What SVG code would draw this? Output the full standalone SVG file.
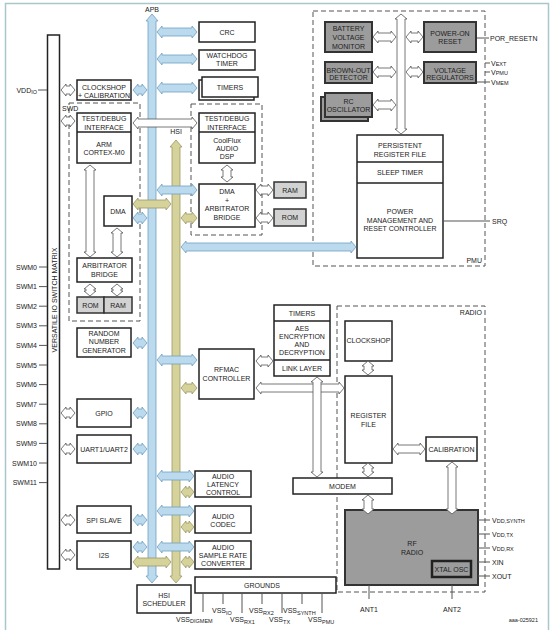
<svg xmlns="http://www.w3.org/2000/svg" width="554" height="630" viewBox="0 0 554 630">
<style>
.b{fill:#fff;stroke:#222;stroke-width:1.5}
.g{fill:#9c9c9c;stroke:#333;stroke-width:2}
.lg{fill:#d2d2d2;stroke:#333;stroke-width:1.5}
.d{fill:none;stroke:#555;stroke-width:1;stroke-dasharray:5 3}
.ab{fill:#bbdaee;stroke:#6f9fc0;stroke-width:0.8}
.ak{fill:#d5d29b;stroke:#9c9862;stroke-width:0.8}
.aw{fill:#fff;stroke:#555;stroke-width:0.8}
.ln{stroke:#555;stroke-width:1;fill:none}
text{font-family:"Liberation Sans",Arial,sans-serif;font-size:7px;fill:#222;text-anchor:middle}
.l{text-anchor:start}
.r{text-anchor:end}
.s{font-size:5.5px}
</style>
<rect width="554" height="630" fill="#fff"/>
<path d="M5.5,632 V3.5 H548.5 V632" fill="none" stroke="#a9c6cc" stroke-width="1.5"/>

<!-- dashed containers -->
<g id="arm-sub"><rect class="d" x="69" y="103" width="71" height="218"/><text class="l" x="62" y="110.5">SWD</text></g>
<g id="dsp-sub"><rect class="d" x="191" y="104" width="71" height="131"/></g>
<g id="pmu"><rect class="d" x="313" y="11" width="172" height="255"/><text class="r" x="482" y="262.5">PMU</text></g>
<g id="radio"><rect class="d" x="337" y="306" width="148" height="286"/><text class="r" x="482" y="314.5">RADIO</text></g>

<!-- switch matrix -->
<g id="switch-matrix">
<rect class="b" x="47.5" y="35" width="12" height="534"/>
<text transform="translate(56.5,300) rotate(-90)">VERSATILE IO SWITCH MATRIX</text>
<line class="ln" x1="38" y1="90" x2="47" y2="90"/>
<text class="r" x="37" y="92.5">VDD<tspan class="s" dy="1.5">IO</tspan></text>
</g>
<g id="swm-pins">
<path class="ln" d="M39,267H47M39,286.6H47M39,306.2H47M39,325.8H47M39,345.4H47M39,365H47M39,384.6H47M39,404.2H47M39,423.8H47M39,443.4H47M39,463H47M39,482.6H47"/>
<text class="r" x="37" y="269.5">SWM0</text>
<text class="r" x="37" y="289">SWM1</text>
<text class="r" x="37" y="308.7">SWM2</text>
<text class="r" x="37" y="328.3">SWM3</text>
<text class="r" x="37" y="347.9">SWM4</text>
<text class="r" x="37" y="367.5">SWM5</text>
<text class="r" x="37" y="387">SWM6</text>
<text class="r" x="37" y="406.7">SWM7</text>
<text class="r" x="37" y="426.3">SWM8</text>
<text class="r" x="37" y="445.9">SWM9</text>
<text class="r" x="37" y="465.5">SWM10</text>
<text class="r" x="37" y="485">SWM11</text>
</g>

<!-- buses -->
<g id="apb"><path class="ab" d="M152,14 L158,21 L156,21 L156,576 L158,576 L152,583 L146,576 L148,576 L148,21 L146,21 Z"/><text x="152" y="12">APB</text></g>
<g id="hsi"><path class="ak" d="M176,140 L182,147 L180,147 L180,576 L182,576 L176,583 L170,576 L172,576 L172,147 L170,147 Z"/><text x="176" y="134">HSI</text></g>

<!-- left column nodes -->
<g id="clockshop-cal"><rect class="b" x="77" y="80" width="54" height="20"/><text x="104" y="89.5">CLOCKSHOP</text><text x="104" y="97.5">+ CALIBRATION</text></g>
<g id="arm"><rect class="b" x="77" y="113" width="54" height="50"/><line x1="77" y1="132" x2="131" y2="132" stroke="#222" stroke-width="1.5"/>
<text x="104" y="120.5">TEST/DEBUG</text><text x="104" y="129.5">INTERFACE</text><text x="104" y="146.5">ARM</text><text x="104" y="154.5">CORTEX-M0</text></g>
<g id="dma"><rect class="b" x="104" y="196" width="28" height="30"/><text x="118" y="213.5">DMA</text></g>
<g id="arb"><rect class="b" x="77" y="258" width="55" height="24"/><text x="104.5" y="268">ARBITRATOR</text><text x="104.5" y="276.5">BRIDGE</text></g>
<g id="rom1"><rect class="lg" x="77" y="297" width="27" height="16"/><text x="90.5" y="307.5">ROM</text></g>
<g id="ram1"><rect class="lg" x="104" y="297" width="28" height="16"/><text x="118" y="307.5">RAM</text></g>
<g id="rng"><rect class="b" x="77" y="328" width="54" height="29"/><text x="104" y="335.5">RANDOM</text><text x="104" y="344">NUMBER</text><text x="104" y="352.5">GENERATOR</text></g>
<g id="gpio"><rect class="b" x="77" y="399" width="54" height="28"/><text x="104" y="415.5">GPIO</text></g>
<g id="uart"><rect class="b" x="77" y="435" width="54" height="28"/><text x="104" y="451.5">UART1/UART2</text></g>
<g id="spi"><rect class="b" x="77" y="506" width="54" height="27"/><text x="104" y="522.5">SPI SLAVE</text></g>
<g id="i2s"><rect class="b" x="77" y="541" width="54" height="28"/><text x="104" y="557.5">I2S</text></g>
<g id="hsi-sched"><rect class="b" x="137" y="585" width="54" height="28"/><text x="164" y="597.5">HSI</text><text x="164" y="605.5">SCHEDULER</text></g>

<!-- right column nodes -->
<g id="crc"><rect class="b" x="199" y="22" width="56" height="20"/><text x="227" y="34.5">CRC</text></g>
<g id="wdt"><rect class="b" x="199" y="50" width="56" height="20"/><text x="227" y="57.5">WATCHDOG</text><text x="227" y="65.5">TIMER</text></g>
<g id="timers"><rect class="b" x="199" y="80" width="55" height="20"/><rect class="b" x="202" y="77" width="56" height="20"/><text x="230" y="90">TIMERS</text></g>
<g id="dsp"><rect class="b" x="199" y="113" width="56" height="50"/><line x1="199" y1="132" x2="255" y2="132" stroke="#222" stroke-width="1.5"/>
<text x="227" y="120.5">TEST/DEBUG</text><text x="227" y="129.5">INTERFACE</text><text x="227" y="142.5">CoolFlux</text><text x="227" y="150.5">AUDIO</text><text x="227" y="158.5">DSP</text></g>
<g id="dma-arb"><rect class="b" x="199" y="184" width="56" height="43"/><text x="227" y="194">DMA</text><text x="227" y="202.5">+</text><text x="227" y="210.5">ARBITRATOR</text><text x="227" y="219.5">BRIDGE</text></g>
<g id="ram2"><rect class="lg" x="274" y="182" width="32" height="16"/><text x="290" y="192.5">RAM</text></g>
<g id="rom2"><rect class="lg" x="274" y="209" width="32" height="17"/><text x="290" y="220">ROM</text></g>
<g id="rfmac"><rect class="b" x="199" y="349" width="55" height="50"/><text x="226.5" y="371.5">RFMAC</text><text x="226.5" y="380.5">CONTROLLER</text></g>
<g id="link-layer"><rect class="b" x="274" y="305" width="56" height="71"/><path d="M274,321H330M274,360H330" stroke="#222" stroke-width="1.5"/>
<text x="302" y="315.5">TIMERS</text><text x="302" y="330.5">AES</text><text x="302" y="338.5">ENCRYPTION</text><text x="302" y="346.5">AND</text><text x="302" y="355">DECRYPTION</text><text x="302" y="370.5">LINK LAYER</text></g>
<g id="audio-lat"><rect class="b" x="195" y="471" width="56" height="26"/><text x="223" y="478.5">AUDIO</text><text x="223" y="486.5">LATENCY</text><text x="223" y="494.5">CONTROL</text></g>
<g id="audio-codec"><rect class="b" x="195" y="506" width="56" height="27"/><text x="223" y="518.5">AUDIO</text><text x="223" y="526.5">CODEC</text></g>
<g id="audio-src"><rect class="b" x="195" y="541" width="56" height="28"/><text x="223" y="549.5">AUDIO</text><text x="223" y="557.5">SAMPLE RATE</text><text x="223" y="565.5">CONVERTER</text></g>
<g id="grounds"><rect class="b" x="195" y="577" width="141" height="16"/><text x="262" y="587.5">GROUNDS</text>
<path class="ln" d="M203,593V612M223,593V604M242,593V613M262,593V604M282,593V613M302,593V604M322,593V613"/>
<text class="l" x="176" y="621.5">VSS<tspan class="s" dy="1.5">DIGMEM</tspan></text>
<text class="l" x="212" y="613">VSS<tspan class="s" dy="1.5">IO</tspan></text>
<text class="l" x="230" y="622">VSS<tspan class="s" dy="1.5">RX1</tspan></text>
<text class="l" x="249" y="613">VSS<tspan class="s" dy="1.5">RX2</tspan></text>
<text class="l" x="269" y="622">VSS<tspan class="s" dy="1.5">TX</tspan></text>
<text class="l" x="283" y="613">VSS<tspan class="s" dy="1.5">SYNTH</tspan></text>
<text class="l" x="308" y="622">VSS<tspan class="s" dy="1.5">PMU</tspan></text>
</g>

<!-- PMU nodes -->
<g id="bat-mon"><rect class="g" x="325" y="22" width="47" height="30"/><text x="348.5" y="30.8">BATTERY</text><text x="348.5" y="40.2">VOLTAGE</text><text x="348.5" y="49.2">MONITOR</text></g>
<g id="por"><rect class="g" x="424" y="22" width="52" height="30"/><text x="450" y="35.5">POWER-ON</text><text x="450" y="44">RESET</text>
<line class="ln" x1="477" y1="38" x2="489" y2="38"/><text class="l" x="490" y="40.5">POR_RESETN</text></g>
<g id="bod"><rect class="g" x="325" y="62" width="47" height="21"/><text x="348.5" y="72.5">BROWN-OUT</text><text x="348.5" y="80.3">DETECTOR</text></g>
<g id="vreg"><rect class="g" x="424" y="62" width="52" height="21"/><text x="450" y="72.5">VOLTAGE</text><text x="450" y="80.3">REGULATORS</text>
<path class="ln" d="M485,63H490M485,72H490M477,82H490"/>
<text class="l" x="491" y="65.5">V<tspan class="s">EXT</tspan></text>
<text class="l" x="491" y="74.5">V<tspan class="s">PMU</tspan></text>
<text class="l" x="491" y="84.5">V<tspan class="s">MEM</tspan></text></g>
<g id="rc-osc"><rect class="g" x="321" y="97" width="47" height="24" fill="#7c7c7c"/><rect class="g" x="325" y="93" width="47" height="24"/><text x="348.5" y="103.5">RC</text><text x="348.5" y="112">OSCILLATOR</text></g>
<g id="pmu-ctrl"><rect class="b" x="357" y="135" width="86" height="123"/><path d="M357,162H443M357,183H443" stroke="#222" stroke-width="1.5"/>
<text x="400" y="147.5">PERSISTENT</text><text x="400" y="156.5">REGISTER FILE</text><text x="400" y="174.5">SLEEP TIMER</text>
<text x="400" y="214">POWER</text><text x="400" y="223">MANAGEMENT AND</text><text x="400" y="231">RESET CONTROLLER</text>
<line class="ln" x1="443" y1="221" x2="490" y2="221"/><text class="l" x="492" y="223.5">SRQ</text></g>

<!-- radio nodes -->
<g id="r-clockshop"><rect class="b" x="345" y="321" width="47" height="40"/><text x="368.5" y="343">CLOCKSHOP</text></g>
<g id="r-regfile"><rect class="b" x="345" y="376" width="47" height="87"/><text x="368.5" y="417.5">REGISTER</text><text x="368.5" y="426.5">FILE</text></g>
<g id="r-cal"><rect class="b" x="426" y="437" width="51" height="24"/><text x="451.5" y="451.5">CALIBRATION</text></g>
<g id="modem"><rect class="b" x="293" y="478" width="99" height="16"/><text x="342.5" y="488.5">MODEM</text></g>
<g id="rf-radio"><rect class="g" x="345" y="510" width="133" height="75"/><text x="412" y="545.5">RF</text><text x="412" y="554.5">RADIO</text>
<path class="ln" d="M478,520H490M478,534H490M478,548H490M478,562H490M478,576H490M369,585V599M452,585V599"/>
<text class="l" x="492" y="522.5">V<tspan class="s">DD,SYNTH</tspan></text>
<text class="l" x="492" y="536.5">V<tspan class="s">DD,TX</tspan></text>
<text class="l" x="492" y="550.5">V<tspan class="s">DD,RX</tspan></text>
<text class="l" x="492" y="564.5">XIN</text>
<text class="l" x="492" y="578.5">XOUT</text>
<text x="369" y="612">ANT1</text><text x="452" y="612">ANT2</text></g>
<g id="xtal"><rect x="432" y="561" width="39" height="16" fill="#9c9c9c" stroke="#222" stroke-width="2.5"/><text x="451.5" y="571.5">XTAL OSC</text></g>

<!-- connectors -->
<g id="connectors">
<path class="ab" d="M157,32 L162,26 L162,28 L192,28 L192,26 L197,32 L192,38 L192,36 L162,36 L162,38 Z"/>
<path class="ab" d="M157,59 L162,53 L162,55 L192,55 L192,53 L197,59 L192,65 L192,63 L162,63 L162,65 Z"/>
<path class="ab" d="M157,88 L162,82 L162,84 L192,84 L192,82 L197,88 L192,94 L192,92 L162,92 L162,94 Z"/>
<path class="ab" d="M157,190 L162,184 L162,186 L192,186 L192,184 L197,190 L192,196 L192,194 L162,194 L162,196 Z"/>
<path class="ab" d="M181,247 L186,241 L186,243 L351,243 L351,241 L356,247 L351,253 L351,251 L186,251 L186,253 Z"/>
<path class="ab" d="M157,360 L162,354 L162,356 L192,356 L192,354 L197,360 L192,366 L192,364 L162,364 L162,366 Z"/>
<path class="ab" d="M157,476 L162,470 L162,472 L189,472 L189,470 L194,476 L189,482 L189,480 L162,480 L162,482 Z"/>
<path class="ab" d="M157,511 L162,505 L162,507 L189,507 L189,505 L194,511 L189,517 L189,515 L162,515 L162,517 Z"/>
<path class="ab" d="M157,547 L162,541 L162,543 L189,543 L189,541 L194,547 L189,553 L189,551 L162,551 L162,553 Z"/>
<path class="ab" d="M133,90 L138,84 L138,86 L142,86 L142,84 L147,90 L142,96 L142,94 L138,94 L138,96 Z"/>
<path class="ab" d="M133,218 L138,212 L138,214 L142,214 L142,212 L147,218 L142,224 L142,222 L138,222 L138,224 Z"/>
<path class="ab" d="M133,343 L138,337 L138,339 L142,339 L142,337 L147,343 L142,349 L142,347 L138,347 L138,349 Z"/>
<path class="ab" d="M133,413 L138,407 L138,409 L142,409 L142,407 L147,413 L142,419 L142,417 L138,417 L138,419 Z"/>
<path class="ab" d="M133,449 L138,443 L138,445 L142,445 L142,443 L147,449 L142,455 L142,453 L138,453 L138,455 Z"/>
<path class="ab" d="M133,520 L138,514 L138,516 L142,516 L142,514 L147,520 L142,526 L142,524 L138,524 L138,526 Z"/>
<path class="ab" d="M133,547 L138,541 L138,543 L142,543 L142,541 L147,547 L142,553 L142,551 L138,551 L138,553 Z"/>
<path class="ak" d="M133,204 L138,198 L138,200 L166,200 L166,198 L171,204 L166,210 L166,208 L138,208 L138,210 Z"/>
<path class="ak" d="M133,562 L138,556 L138,558 L166,558 L166,556 L171,562 L166,568 L166,566 L138,566 L138,568 Z"/>
<path class="ak" d="M181,218 L186,212 L186,214 L192,214 L192,212 L197,218 L192,224 L192,222 L186,222 L186,224 Z"/>
<path class="ak" d="M181,388 L186,382 L186,384 L192,384 L192,382 L197,388 L192,394 L192,392 L186,392 L186,394 Z"/>
<path class="ak" d="M181,492 L186,486 L186,488 L189,488 L189,486 L194,492 L189,498 L189,496 L186,496 L186,498 Z"/>
<path class="ak" d="M181,527 L186,521 L186,523 L189,523 L189,521 L194,527 L189,533 L189,531 L186,531 L186,533 Z"/>
<path class="ak" d="M181,562 L186,556 L186,558 L189,558 L189,556 L194,562 L189,568 L189,566 L186,566 L186,568 Z"/>
<path class="aw" d="M61,90 L66,84 L66,86 L70,86 L70,84 L75,90 L70,96 L70,94 L66,94 L66,96 Z"/>
<path class="aw" d="M61,121 L66,115 L66,117 L70,117 L70,115 L75,121 L70,127 L70,125 L66,125 L66,127 Z"/>
<path class="aw" d="M61,413 L66,407 L66,409 L70,409 L70,407 L75,413 L70,419 L70,417 L66,417 L66,419 Z"/>
<path class="aw" d="M61,449 L66,443 L66,445 L70,445 L70,443 L75,449 L70,455 L70,453 L66,453 L66,455 Z"/>
<path class="aw" d="M61,520 L66,514 L66,516 L70,516 L70,514 L75,520 L70,526 L70,524 L66,524 L66,526 Z"/>
<path class="aw" d="M61,555 L66,549 L66,551 L70,551 L70,549 L75,555 L70,561 L70,559 L66,559 L66,561 Z"/>
<path class="aw" d="M133,123 L138,117 L138,119 L192,119 L192,117 L197,123 L192,129 L192,127 L138,127 L138,129 Z"/>
<path class="aw" d="M256,190 L261,184 L261,186 L268,186 L268,184 L273,190 L268,196 L268,194 L261,194 L261,196 Z"/>
<path class="aw" d="M256,218 L261,212 L261,214 L268,214 L268,212 L273,218 L268,224 L268,222 L261,222 L261,224 Z"/>
<path class="aw" d="M373,37 L378,31 L378,33 L391,33 L391,31 L396,37 L391,43 L391,41 L378,41 L378,43 Z"/>
<path class="aw" d="M406,37 L411,31 L411,33 L418,33 L418,31 L423,37 L418,43 L418,41 L411,41 L411,43 Z"/>
<path class="aw" d="M373,72 L378,66 L378,68 L391,68 L391,66 L396,72 L391,78 L391,76 L378,76 L378,78 Z"/>
<path class="aw" d="M406,72 L411,66 L411,68 L418,68 L418,66 L423,72 L418,78 L418,76 L411,76 L411,78 Z"/>
<path class="aw" d="M373,105 L378,99 L378,101 L391,101 L391,99 L396,105 L391,111 L391,109 L378,109 L378,111 Z"/>
<path class="aw" d="M256,361 L261,355 L261,357 L268,357 L268,355 L273,361 L268,367 L268,365 L261,365 L261,367 Z"/>
<path class="aw" d="M256,388 L261,382 L261,384 L339,384 L339,382 L344,388 L339,394 L339,392 L261,392 L261,394 Z"/>
<path class="aw" d="M393,449 L398,443 L398,445 L420,445 L420,443 L425,449 L420,455 L420,453 L398,453 L398,455 Z"/>
<path class="aw" d="M90,165 L96,170 L94,170 L94,252 L96,252 L90,257 L84,252 L86,252 L86,170 L84,170 Z"/>
<path class="aw" d="M117,228 L123,233 L121,233 L121,252 L123,252 L117,257 L111,252 L113,252 L113,233 L111,233 Z"/>
<path class="aw" d="M90,284 L96,289 L94,289 L94,291 L96,291 L90,296 L84,291 L86,291 L86,289 L84,289 Z"/>
<path class="aw" d="M117,284 L123,289 L121,289 L121,291 L123,291 L117,296 L111,291 L113,291 L113,289 L111,289 Z"/>
<path class="aw" d="M227,165 L233,170 L231,170 L231,177 L233,177 L227,182 L221,177 L223,177 L223,170 L221,170 Z"/>
<path class="aw" d="M401,14 L407,19 L405,19 L405,129 L407,129 L401,134 L395,129 L397,129 L397,19 L395,19 Z"/>
<path class="aw" d="M317,377 L323,382 L321,382 L321,472 L323,472 L317,477 L311,472 L313,472 L313,382 L311,382 Z"/>
<path class="aw" d="M368,361 L374,366 L372,366 L372,370 L374,370 L368,375 L362,370 L364,370 L364,366 L362,366 Z"/>
<path class="aw" d="M368,463 L374,468 L372,468 L372,472 L374,472 L368,477 L362,472 L364,472 L364,468 L362,468 Z"/>
<path class="aw" d="M368,495 L374,500 L372,500 L372,509 L374,509 L368,514 L362,509 L364,509 L364,500 L362,500 Z"/>
<path class="aw" d="M452,462 L458,467 L456,467 L456,509 L458,509 L452,514 L446,509 L448,509 L448,467 L446,467 Z"/>
</g>
<text class="r" x="538" y="622" style="font-size:5.5px">aaa-025921</text>
</svg>
